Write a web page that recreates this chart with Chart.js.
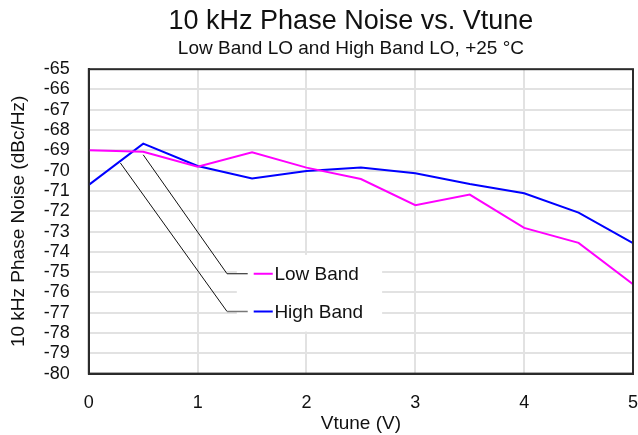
<!DOCTYPE html>
<html>
<head>
<meta charset="utf-8">
<script src="https://cdn.jsdelivr.net/npm/chart.js@4"></script>
<style>
  html, body { margin: 0; padding: 0; background: #fff; }
  #wrap { width: 638px; height: 435px; }
</style>
</head>
<body>
<div id="wrap"><canvas id="chart-1"></canvas></div>
<script>
const vtune = [0, 0.5, 1, 1.5, 2, 2.5, 3, 3.5, 4, 4.5, 5];
const lowBand = [-69.0, -69.07, -69.8, -69.1, -69.85, -70.41, -71.7, -71.18, -72.82, -73.56, -75.6];
const highBand = [-70.7, -68.67, -69.77, -70.39, -70.02, -69.84, -70.13, -70.66, -71.11, -72.07, -73.57];
const seriesNames = ["Low Band", "High Band"];
const seriesColors = ["#ff00ff", "#0000ff"];

const FONT = "'Liberation Sans', Arial, sans-serif";

function toPoints(ys) {
  return vtune.map((x, i) => ({ x: x, y: ys[i] }));
}

// plot frame on all four sides
const framePlugin = {
  id: "frame",
  afterDraw(chart) {
    const a = chart.chartArea;
    const c = chart.ctx;
    c.save();
    c.strokeStyle = "#2b2b2b";
    c.lineWidth = 2;
    c.strokeRect(a.left, a.top, a.right - a.left, a.bottom - a.top);
    c.restore();
  },
};

// titles sit a little left of the plot centre
const titleShift = {
  id: "titleShift",
  afterLayout(chart) {
    chart.boxes.forEach((b) => {
      if (b.position === "top" && b.options && b.options.text) {
        b.left -= 20;
      }
    });
  },
};

// legend box inside the plot, with leader lines to the curves
const calloutLegend = {
  id: "calloutLegend",
  beforeDatasetsDraw(chart) {
    const a = chart.chartArea;
    const c = chart.ctx;
    const xs = chart.scales.x;
    const ys = chart.scales.y;
    const w = a.right - a.left;
    const h = a.bottom - a.top;
    const fx = (f) => a.left + f * w;
    const fy = (f) => a.top + f * h;

    c.save();
    c.fillStyle = "#fff";
    c.fillRect(fx(0.272), fy(0.61), fx(0.539) - fx(0.272), fy(0.862) - fy(0.61));

    // leader starting points on the curves
    const t = 0.58;
    const starts = [
      { x: xs.getPixelForValue(vtune[1]), y: ys.getPixelForValue(lowBand[1]) + 3 },
      {
        x: xs.getPixelForValue(vtune[0] + t * (vtune[1] - vtune[0])),
        y: ys.getPixelForValue(highBand[0] + t * (highBand[1] - highBand[0])) + 2,
      },
    ];
    const rows = [fy(0.672), fy(0.796)];

    rows.forEach((ry, i) => {
      c.lineWidth = 1;
      c.strokeStyle = "#111";
      c.beginPath();
      c.moveTo(starts[i].x, starts[i].y);
      c.lineTo(fx(0.254), ry);
      c.stroke();
      c.strokeStyle = i === 0 ? "#111" : "#777";
      c.lineWidth = i === 0 ? 1 : 1.5;
      c.beginPath();
      c.moveTo(fx(0.254), ry);
      c.lineTo(fx(0.292), ry);
      c.stroke();

      c.strokeStyle = seriesColors[i];
      c.lineWidth = 2;
      c.beginPath();
      c.moveTo(fx(0.303), ry);
      c.lineTo(fx(0.338), ry);
      c.stroke();

      c.fillStyle = "#111";
      c.font = "19px " + FONT;
      c.textBaseline = "middle";
      c.textAlign = "left";
      c.fillText(seriesNames[i], fx(0.341), ry + 1);
    });
    c.restore();
  },
};

const ctx1 = document.getElementById("chart-1").getContext("2d");
const myChart = new Chart(ctx1, {
  type: "line",
  data: {
    datasets: [
      {
        label: seriesNames[0],
        data: toPoints(lowBand),
        borderColor: seriesColors[0],
        borderWidth: 2,
        pointRadius: 0,
        tension: 0,
      },
      {
        label: seriesNames[1],
        data: toPoints(highBand),
        borderColor: seriesColors[1],
        borderWidth: 2,
        pointRadius: 0,
        tension: 0,
      },
    ],
  },
  options: {
    responsive: true,
    maintainAspectRatio: false,
    animation: false,
    layout: { padding: { left: 7, right: 5, top: 0, bottom: 0 } },
    plugins: {
      legend: { display: false },
      tooltip: { enabled: false },
      title: {
        display: true,
        text: "10 kHz Phase Noise vs. Vtune",
        fullSize: false,
        color: "#111",
        font: { family: FONT, size: 27, weight: "normal" },
        padding: { top: 5, bottom: 0 },
      },
      subtitle: {
        display: true,
        text: "Low Band LO and High Band LO, +25 °C",
        fullSize: false,
        color: "#111",
        font: { family: FONT, size: 19, weight: "normal" },
        padding: { top: 0, bottom: 9 },
      },
    },
    scales: {
      x: {
        type: "linear",
        min: 0,
        max: 5,
        afterFit(scale) {
          // only leave room for half of the last label
          scale.paddingLeft = 0;
          scale.paddingRight = 5;
        },
        ticks: {
          stepSize: 1,
          color: "#111",
          padding: 19,
          font: { family: FONT, size: 18 },
        },
        grid: { color: "#e2e2e2", lineWidth: 2, drawTicks: false },
        border: { color: "#2b2b2b", width: 2 },
        title: {
          display: true,
          text: "Vtune (V)",
          color: "#111",
          padding: { top: -21, bottom: 0 },
          font: { family: FONT, size: 19 },
        },
      },
      y: {
        min: -80,
        max: -65,
        ticks: {
          stepSize: 1,
          autoSkip: false,
          color: "#111",
          padding: 19,
          font: { family: FONT, size: 18 },
        },
        grid: { color: "#e2e2e2", lineWidth: 2, drawTicks: false },
        border: { color: "#2b2b2b", width: 2 },
        title: {
          display: true,
          text: "10 kHz Phase Noise (dBc/Hz)",
          color: "#111",
          padding: { top: 0, bottom: -5 },
          font: { family: FONT, size: 19 },
        },
      },
    },
  },
  plugins: [calloutLegend, framePlugin, titleShift],
});
</script>
</body>
</html>
